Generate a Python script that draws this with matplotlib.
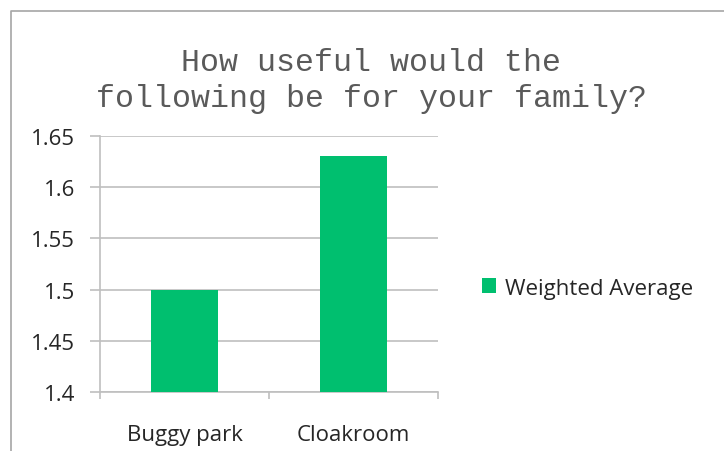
import matplotlib
matplotlib.use("Agg")
import matplotlib.pyplot as plt
from matplotlib.lines import Line2D
from matplotlib.patches import Patch

categories = ["Buggy park", "Cloakroom"]
weighted_average = [1.50, 1.63]
y_ticks = [1.4, 1.45, 1.5, 1.55, 1.6, 1.65]
y_tick_labels = ["1.4", "1.45", "1.5", "1.55", "1.6", "1.65"]
series_name = "Weighted Average"
title = "How useful would the\nfollowing be for your family?"

W, H = 724, 452
fig = plt.figure(figsize=(W / 100, H / 100), dpi=100)
fig.patch.set_facecolor("white")

grid_color = "#BFBFBF"
bar_color = "#00BF6F"
text_color = "#262626"
label_font = ["Open Sans", "DejaVu Sans"]
label_size = 16

# outer chart frame (top and left edges)
fig.add_artist(Line2D([11 / W, 11 / W, 1.0], [0.0, 1 - 12 / H, 1 - 12 / H],
                      transform=fig.transFigure, color="#A6A6A6", lw=1.2))

ax = fig.add_axes([100 / W, 1 - 393 / H, 338 / W, 256 / H])
x = list(range(len(categories)))
ax.bar(x, weighted_average, width=0.4, color=bar_color, zorder=3,
       label=series_name)

ax.set_xlim(-0.5, len(categories) - 0.5)
ax.set_ylim(y_ticks[0], y_ticks[-1])
ax.set_yticks(y_ticks)
ax.set_yticklabels(y_tick_labels, fontsize=label_size, family=label_font,
                   color=text_color)
ax.set_xticks(x)
ax.set_xticklabels(categories, fontsize=label_size, family=label_font,
                   color=text_color)
ax.tick_params(axis="x", which="major", length=0, pad=23)
ax.set_xticks([-0.5, 0.5, 1.5], minor=True)
ax.tick_params(axis="x", which="minor", length=5, width=1.2, color=grid_color)
ax.tick_params(axis="y", length=7, width=1.2, color=grid_color, pad=11)

ax.yaxis.grid(True, color=grid_color, lw=1.2, zorder=0)
for side in ["top", "right"]:
    ax.spines[side].set_visible(False)
for side in ["left", "bottom"]:
    ax.spines[side].set_color(grid_color)
    ax.spines[side].set_linewidth(1.2)

fig.text(371 / W, 1 - 81 / H, title, ha="center", va="center",
         family=["Liberation Mono", "DejaVu Sans Mono"], fontsize=22.8,
         color="#5A5A5A", linespacing=1.25)

handles = [Patch(facecolor=bar_color, edgecolor="none", label=series_name)]
fig.legend(handles=handles, loc="center left",
           bbox_to_anchor=(462 / W, 1 - 289 / H), frameon=False,
           prop={"family": label_font, "size": label_size},
           handlelength=0.65, handleheight=0.65, handletextpad=0.4,
           labelcolor=text_color)

fig.savefig("out.png", dpi=100)
